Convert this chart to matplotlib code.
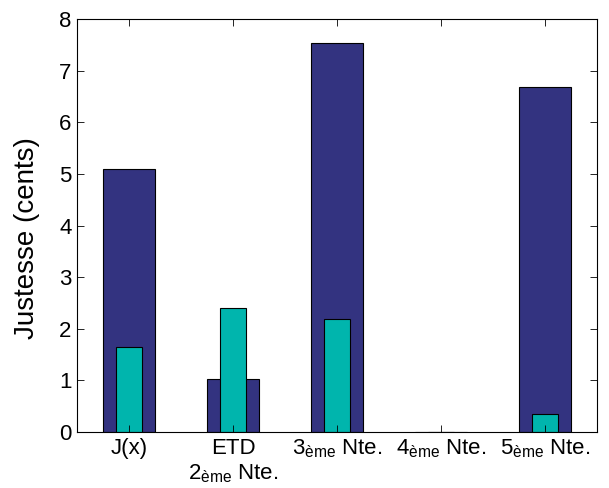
import matplotlib
matplotlib.use("Agg")
import matplotlib.pyplot as plt
import numpy as np

plt.rcParams['font.family'] = ['Liberation Sans', 'DejaVu Sans']
plt.rcParams['mathtext.fontset'] = 'custom'
plt.rcParams['mathtext.rm'] = 'Liberation Sans'
plt.rcParams['mathtext.it'] = 'Liberation Sans'

labels = ["J(x)", "ETD\n2$_{\\mathrm{ème}}$ Nte.", "3$_{\\mathrm{ème}}$ Nte.",
          "4$_{\\mathrm{ème}}$ Nte.", "5$_{\\mathrm{ème}}$ Nte."]
wide_vals = [5.09, 1.03, 7.53, 0.0, 6.68]
narrow_vals = [1.65, 2.41, 2.19, 0.0, 0.35]

x = np.arange(1, len(labels) + 1)

fig = plt.figure(figsize=(6.09, 4.88), dpi=100)
ax = fig.add_axes([77/609, 56/488, 520/609, 413/488])

ax.bar(x, wide_vals, width=0.5, color='#333380', edgecolor='black', linewidth=0.8)
ax.bar(x, narrow_vals, width=0.25, color='#00B5AD', edgecolor='black', linewidth=0.8)

ax.set_xlim(0.5, 5.5)
ax.set_ylim(0, 8)
ax.set_yticks(range(0, 9))
ax.set_xticks(x)
ax.set_xticklabels(labels)
ax.tick_params(direction='in', labelsize=16, length=5, width=0.6,
               top=True, right=True, pad=4)
# y label sits a bit below the axes centre in the original
fig.text(27/609, 1 - 238/488, "Justesse (cents)", fontsize=20,
         rotation=90, ha='center', va='center')
for s in ax.spines.values():
    s.set_linewidth(0.8)

plt.savefig("out.png", dpi=100)
